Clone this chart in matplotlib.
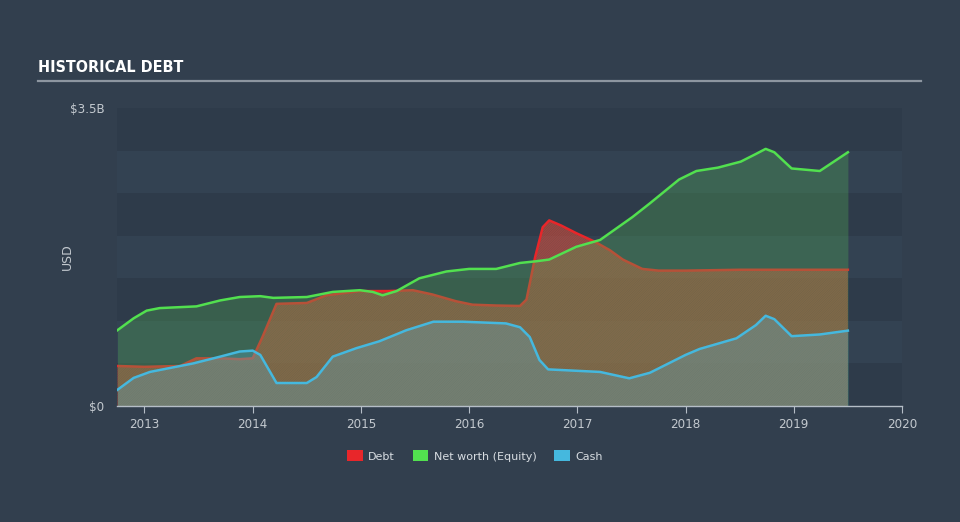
import matplotlib
matplotlib.use("Agg")
import matplotlib.pyplot as plt
from matplotlib.patches import Patch
import numpy as np

# ---- data (USD billions) ----
debt_t = [2012.75, 2013.0, 2013.33, 2013.48, 2013.7, 2013.88, 2014.0, 2014.09, 2014.22, 2014.5,
          2014.68, 2014.99, 2015.25, 2015.48, 2015.66, 2015.88, 2016.03, 2016.25, 2016.47, 2016.53,
          2016.61, 2016.68, 2016.74, 2016.85, 2016.99, 2017.16, 2017.3, 2017.42, 2017.6, 2017.75,
          2018.0, 2018.5, 2019.0, 2019.5]
debt_v = [0.47, 0.46, 0.47, 0.56, 0.56, 0.55, 0.56, 0.81, 1.20, 1.21,
          1.30, 1.35, 1.35, 1.36, 1.31, 1.23, 1.19, 1.18, 1.175, 1.25,
          1.75, 2.10, 2.18, 2.12, 2.03, 1.93, 1.83, 1.72, 1.61, 1.59,
          1.59, 1.60, 1.60, 1.60]

equity_t = [2012.75, 2012.9, 2013.02, 2013.14, 2013.48, 2013.7, 2013.88, 2014.07, 2014.19, 2014.5,
            2014.74, 2014.99, 2015.11, 2015.2, 2015.33, 2015.54, 2015.79, 2016.0, 2016.25, 2016.47,
            2016.62, 2016.74, 2016.99, 2017.21, 2017.51, 2017.67, 2017.94, 2018.1, 2018.3, 2018.51,
            2018.65, 2018.74, 2018.82, 2018.98, 2019.24, 2019.5]
equity_v = [0.89, 1.03, 1.12, 1.15, 1.17, 1.24, 1.28, 1.29, 1.27, 1.28,
            1.34, 1.36, 1.34, 1.30, 1.35, 1.50, 1.58, 1.61, 1.61, 1.68,
            1.70, 1.72, 1.87, 1.95, 2.22, 2.38, 2.66, 2.76, 2.80, 2.87,
            2.96, 3.02, 2.98, 2.79, 2.76, 2.98]

cash_t = [2012.75, 2012.9, 2013.05, 2013.45, 2013.7, 2013.88, 2014.0, 2014.07, 2014.22, 2014.5,
          2014.59, 2014.74, 2014.96, 2015.17, 2015.42, 2015.67, 2015.94, 2016.34, 2016.47, 2016.56,
          2016.65, 2016.73, 2017.21, 2017.48, 2017.67, 2018.0, 2018.13, 2018.47, 2018.65, 2018.74,
          2018.82, 2018.98, 2019.24, 2019.5]
cash_v = [0.19, 0.33, 0.40, 0.50, 0.58, 0.64, 0.65, 0.60, 0.27, 0.27,
          0.34, 0.58, 0.68, 0.76, 0.89, 0.99, 0.99, 0.97, 0.925, 0.81,
          0.54, 0.43, 0.40, 0.325, 0.39, 0.60, 0.67, 0.795, 0.95, 1.06,
          1.02, 0.82, 0.84, 0.885]

year_ticks = [2013, 2014, 2015, 2016, 2017, 2018, 2019, 2020]
legend_labels = ["Debt", "Net worth (Equity)", "Cash"]

# ---- style ----
BG = "#323f4e"
DEBT_C = "#e8262a"
EQ_C = "#52e04f"
CASH_C = "#45b8de"
TXT = "#c3c9cf"
COND = dict(family="DejaVu Sans", stretch="condensed")

plt.rcParams["hatch.linewidth"] = 1.1

fig = plt.figure(figsize=(9.6, 5.22), dpi=100, facecolor=BG)
ax = fig.add_axes([117 / 960, 1 - 406 / 522, (902 - 117) / 960, (406 - 108) / 522])
ax.set_facecolor(BG)
ax.set_xlim(2012.746, 2020.0)
ax.set_ylim(0, 3.5)

# alternating bands
for i in range(7):
    col = "#2e3b4a" if i % 2 == 0 else "#334252"
    ax.axhspan(i * 0.5, (i + 1) * 0.5, color=col, lw=0, zorder=0)

# debt: hatched area
ax.fill_between(debt_t, 0, debt_v, facecolor=(0.50, 0.45, 0.42, 0.10),
                edgecolor=(0.92, 0.30, 0.22, 0.55), hatch="/" * 14, lw=0, zorder=2)
ax.plot(debt_t, debt_v, color=DEBT_C, lw=1.8, zorder=3, solid_joinstyle="round")

# equity: translucent solid area
ax.fill_between(equity_t, 0, equity_v, color="#51ab56", alpha=0.33, lw=0, zorder=4)
ax.plot(equity_t, equity_v, color=EQ_C, lw=1.8, zorder=6, solid_joinstyle="round")

# cash
ax.fill_between(cash_t, 0, cash_v, color="#5ab8d8", alpha=0.28, lw=0, zorder=5)
ax.plot(cash_t, cash_v, color=CASH_C, lw=1.8, zorder=7, solid_joinstyle="round")

# axes styling
for s in ["top", "right", "left"]:
    ax.spines[s].set_visible(False)
ax.spines["bottom"].set_color("#b5bec7")
ax.spines["bottom"].set_linewidth(1.0)
ax.spines["bottom"].set_zorder(8)
ax.set_xticks(year_ticks)
ax.set_xticklabels([str(y) for y in year_ticks], fontsize=9.5, color=TXT, **COND)
ax.tick_params(axis="x", length=5, color="#b5bec7", pad=4)
ax.set_yticks([0, 3.5])
ax.set_yticklabels(["$0", "$3.5B"], fontsize=9.5, color=TXT, **COND)
ax.tick_params(axis="y", length=0, pad=9)
ax.set_ylabel("USD", color=TXT, fontsize=9)
ax.yaxis.set_label_coords(-(117 - 74) / 785, 0.5)

# title and rule
fig.text(38 / 960, 1 - 68 / 522, "HISTORICAL DEBT", fontweight="bold",
         fontsize=11.5, color="white", va="center", ha="left", **COND)
fig.add_artist(plt.Line2D([38 / 960, 921 / 960], [1 - 81 / 522, 1 - 81 / 522],
                          color="#8d96a0", lw=1.6, transform=fig.transFigure))

# legend
handles = [Patch(facecolor=DEBT_C), Patch(facecolor=EQ_C), Patch(facecolor=CASH_C)]
leg = fig.legend(handles, legend_labels, loc="center", bbox_to_anchor=(475 / 960, 1 - 456 / 522),
                 ncol=3, frameon=False, fontsize=8, handlelength=1.4, handleheight=1.1,
                 columnspacing=1.6, handletextpad=0.5)
for t in leg.get_texts():
    t.set_color("#d8dde2")

fig.savefig("out.png", dpi=100, facecolor=BG)
